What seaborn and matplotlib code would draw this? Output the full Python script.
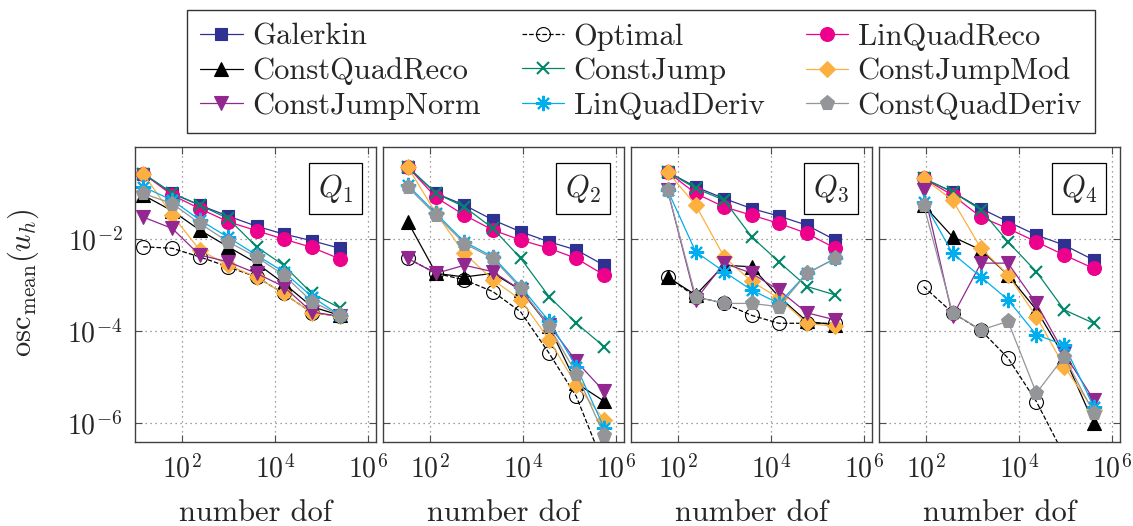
import matplotlib
matplotlib.use("Agg")
import matplotlib.pyplot as plt
from matplotlib.ticker import NullLocator
import seaborn as sns

# -----------------------------
# Data
# -----------------------------
dof_q1 = [15, 63, 245, 1000, 4070, 15500, 63000, 251000]
dof_q2 = [34, 138, 560, 2300, 9100, 37000, 142000, 560000]
dof_q3 = [61, 245, 1000, 3900, 15000, 60000, 245000]
dof_q4 = [91, 380, 1550, 5900, 24000, 95000, 410000]

q1 = {
    "Galerkin":       [0.265, 0.098, 0.0546, 0.0316, 0.019, 0.0129, 0.0092, 0.0063],
    "Optimal":        [0.0068, 0.0063, 0.0041, 0.0025, 0.0015, 0.00066, 0.00025, 0.00021],
    "LinQuadReco":    [0.265, 0.090, 0.046, 0.0238, 0.0152, 0.010, 0.0066, 0.0037],
    "ConstQuadReco":  [0.09, 0.041, 0.0157, 0.0068, 0.003, 0.0011, 0.00034, 0.00022],
    "ConstJump":      [0.265, 0.10, 0.0546, 0.028, 0.0068, 0.0027, 0.00066, 0.00032],
    "ConstJumpMod":   [0.265, 0.033, 0.0058, 0.0027, 0.0015, 0.00066, 0.00025, 0.00021],
    "ConstJumpNorm":  [0.030, 0.017, 0.0045, 0.0032, 0.0018, 0.00093, 0.00026, 0.00021],
    "LinQuadDeriv":   [0.136, 0.07, 0.026, 0.0109, 0.0045, 0.00195, 0.00056, 0.00022],
    "ConstQuadDeriv": [0.098, 0.059, 0.022, 0.0087, 0.0041, 0.00166, 0.00044, 0.00022],
}
q2 = {
    "Galerkin":       [0.37, 0.098, 0.0546, 0.026, 0.0144, 0.0087, 0.0058, 0.0027],
    "Optimal":        [0.0038, 0.0018, 0.0013, 0.00072, 0.00026, 3.3e-5, 3.8e-6, 1.2e-7],
    "LinQuadReco":    [0.37, 0.080, 0.033, 0.0157, 0.0095, 0.0063, 0.0038, 0.00166],
    "ConstQuadReco":  [0.0238, 0.0018, 0.0015, 0.0018, 0.00078, 0.000126, 7.4e-6, 3.0e-6],
    "ConstJump":      [0.37, 0.098, 0.05, 0.017, 0.0038, 0.00056, 0.000148, 4.6e-5],
    "ConstJumpMod":   [0.37, 0.036, 0.0049, 0.0013, 0.00048, 6.5e-5, 6.8e-6, 1.2e-6],
    "ConstJumpNorm":  [0.0038, 0.0018, 0.0027, 0.00195, 0.00078, 0.000136, 2.2e-5, 4.9e-6],
    "LinQuadDeriv":   [0.148, 0.036, 0.0087, 0.0041, 0.00093, 0.000163, 1.7e-5, 7.9e-7],
    "ConstQuadDeriv": [0.136, 0.033, 0.008, 0.0038, 0.00085, 0.000126, 1.2e-5, 5.6e-7],
}
q3 = {
    "Galerkin":       [0.289, 0.136, 0.076, 0.046, 0.0316, 0.020, 0.0095],
    "Optimal":        [0.0015, 0.00056, 0.0004, 0.00022, 0.000148, 0.000148, 0.000148],
    "LinQuadReco":    [0.289, 0.098, 0.05, 0.033, 0.022, 0.0133, 0.0063],
    "ConstQuadReco":  [0.0015, 0.00061, 0.0027, 0.0025, 0.00056, 0.000163, 0.000136],
    "ConstJump":      [0.289, 0.126, 0.070, 0.0112, 0.0032, 0.00093, 0.00061],
    "ConstJumpMod":   [0.289, 0.0546, 0.0041, 0.0012, 0.00052, 0.000148, 0.000126],
    "ConstJumpNorm":  [0.116, 0.00048, 0.003, 0.0018, 0.00078, 0.00025, 0.000175],
    "LinQuadDeriv":   [0.116, 0.0053, 0.00195, 0.00078, 0.0004, 0.0018, 0.0038],
    "ConstQuadDeriv": [0.116, 0.00056, 0.0004, 0.0004, 0.00034, 0.0018, 0.0038],
}
q4 = {
    "Galerkin":       [0.207, 0.106, 0.046, 0.0238, 0.0122, 0.0074, 0.0035],
    "Optimal":        [0.00093, 0.00025, 0.000104, 2.6e-5, 2.95e-6, 2.0e-7, 2.0e-8],
    "LinQuadReco":    [0.207, 0.09, 0.030, 0.017, 0.0087, 0.0045, 0.0023],
    "ConstQuadReco":  [0.055, 0.0112, 0.0058, 0.00166, 0.00029, 2.8e-5, 1.0e-6],
    "ConstJump":      [0.207, 0.106, 0.043, 0.0087, 0.00195, 0.00029, 0.000148],
    "ConstJumpMod":   [0.207, 0.070, 0.0063, 0.00166, 0.000207, 1.7e-5, 1.95e-6],
    "ConstJumpNorm":  [0.116, 0.00021, 0.003, 0.003, 0.0004, 3.3e-5, 3.2e-6],
    "LinQuadDeriv":   [0.065, 0.0049, 0.0015, 0.00048, 8.3e-5, 5e-5, 2.3e-6],
    "ConstQuadDeriv": [0.055, 0.00025, 0.000106, 0.000163, 4.5e-6, 2.8e-5, 1.65e-6],
}

panels = [("$Q_1$", dof_q1, q1), ("$Q_2$", dof_q2, q2),
          ("$Q_3$", dof_q3, q3), ("$Q_4$", dof_q4, q4)]

# plotting order = legend order (row by row)
methods = ["Galerkin", "Optimal", "LinQuadReco",
           "ConstQuadReco", "ConstJump", "ConstJumpMod",
           "ConstJumpNorm", "LinQuadDeriv", "ConstQuadDeriv"]

# color, marker, size, linestyle, face
styles = {
    "Galerkin":       ("#2e3192", "s", 9, "-", None),
    "Optimal":        ("black", "o", 10, "--", "none"),
    "LinQuadReco":    ("#ec008c", "o", 10, "-", None),
    "ConstQuadReco":  ("black", "^", 10, "-", None),
    "ConstJump":      ("#00876a", "x", 9, "-", None),
    "ConstJumpMod":   ("#fbb040", "D", 8, "-", None),
    "ConstJumpNorm":  ("#92278f", "v", 10, "-", None),
    "LinQuadDeriv":   ("#00aeef", (8, 2, 0), 11, "-", None),
    "ConstQuadDeriv": ("#939598", "p", 11, "-", None),
}

# -----------------------------
# Style
# -----------------------------
sns.set_theme(style="ticks")
plt.rcParams.update({
    "font.family": "serif",
    "font.serif": ["cmr10"],
    "mathtext.fontset": "cm",
    "axes.formatter.use_mathtext": True,
    "axes.edgecolor": "0.25",
    "axes.linewidth": 1.0,
})

W, H = 1133, 526
fig = plt.figure(figsize=(W / 100, H / 100), dpi=100)

lefts = [135, 383, 631, 879]
axes = []
for i, left in enumerate(lefts):
    ax = fig.add_axes([left / W, 1 - 442 / H, 241 / W, 295 / H],
                      sharey=axes[0] if axes else None)
    axes.append(ax)

for ax, (qname, dofs, vals) in zip(axes, panels):
    for m in methods:
        c, mk, ms, ls, face = styles[m]
        sns.lineplot(x=dofs, y=vals[m], ax=ax, color=c, marker=mk,
                     markersize=ms, linestyle=ls, linewidth=0.9,
                     markeredgecolor=c,
                     markerfacecolor=c if face is None else face,
                     markeredgewidth=1.5 if mk in ("x", (8, 2, 0)) else 0.8,
                     label=m, legend=False, errorbar=None, sort=False)
    ax.set_xscale("log")
    ax.set_yscale("log")
    ax.set_xlim(10, 1.5e6)
    ax.set_ylim(3.9e-7, 1.0)
    ax.set_xticks([1e2, 1e4, 1e6])
    ax.set_yticks([1e-6, 1e-4, 1e-2])
    ax.xaxis.set_minor_locator(NullLocator())
    ax.yaxis.set_minor_locator(NullLocator())
    ax.grid(True, which="major", linestyle=(0, (1, 3)), color="0.5",
            linewidth=0.9)
    ax.set_axisbelow(True)
    ax.tick_params(which="both", direction="in", top=True, right=True,
                   length=5, width=0.8, labelsize=20, pad=9, color="0.3")
    ax.set_xlabel("number dof", fontsize=22)
    ax.xaxis.set_label_coords(0.5, -0.195)
    ax.xaxis.label.set_va("top")
    ax.text(0.905, 0.915, qname, transform=ax.transAxes, fontsize=22,
            ha="right", va="top",
            bbox=dict(boxstyle="square,pad=0.3", fc="white", ec="black",
                      lw=0.9))
    if ax is not axes[0]:
        ax.tick_params(labelleft=False)

axes[0].set_ylabel(r"$\mathrm{osc}_{\mathrm{mean}}(u_h)$", fontsize=22)
axes[0].yaxis.set_label_coords(-0.39, 0.54)

# legend: matplotlib fills columns first, so reorder
handles, labels = axes[0].get_legend_handles_labels()
lookup = dict(zip(labels, handles))
order = ["Galerkin", "ConstQuadReco", "ConstJumpNorm",
         "Optimal", "ConstJump", "LinQuadDeriv",
         "LinQuadReco", "ConstJumpMod", "ConstQuadDeriv"]
leg = fig.legend([lookup[o] for o in order], order, loc="upper center",
                 bbox_to_anchor=(641 / W, 1 - 10 / H), ncol=3, fontsize=22,
                 frameon=True, fancybox=False, edgecolor="0.2",
                 framealpha=1, handlelength=1.4, handletextpad=0.3,
                 columnspacing=1.35, labelspacing=0.22, borderpad=0.42,
                 borderaxespad=0)
leg.get_frame().set_linewidth(1.0)

fig.savefig("out.png", dpi=100)
